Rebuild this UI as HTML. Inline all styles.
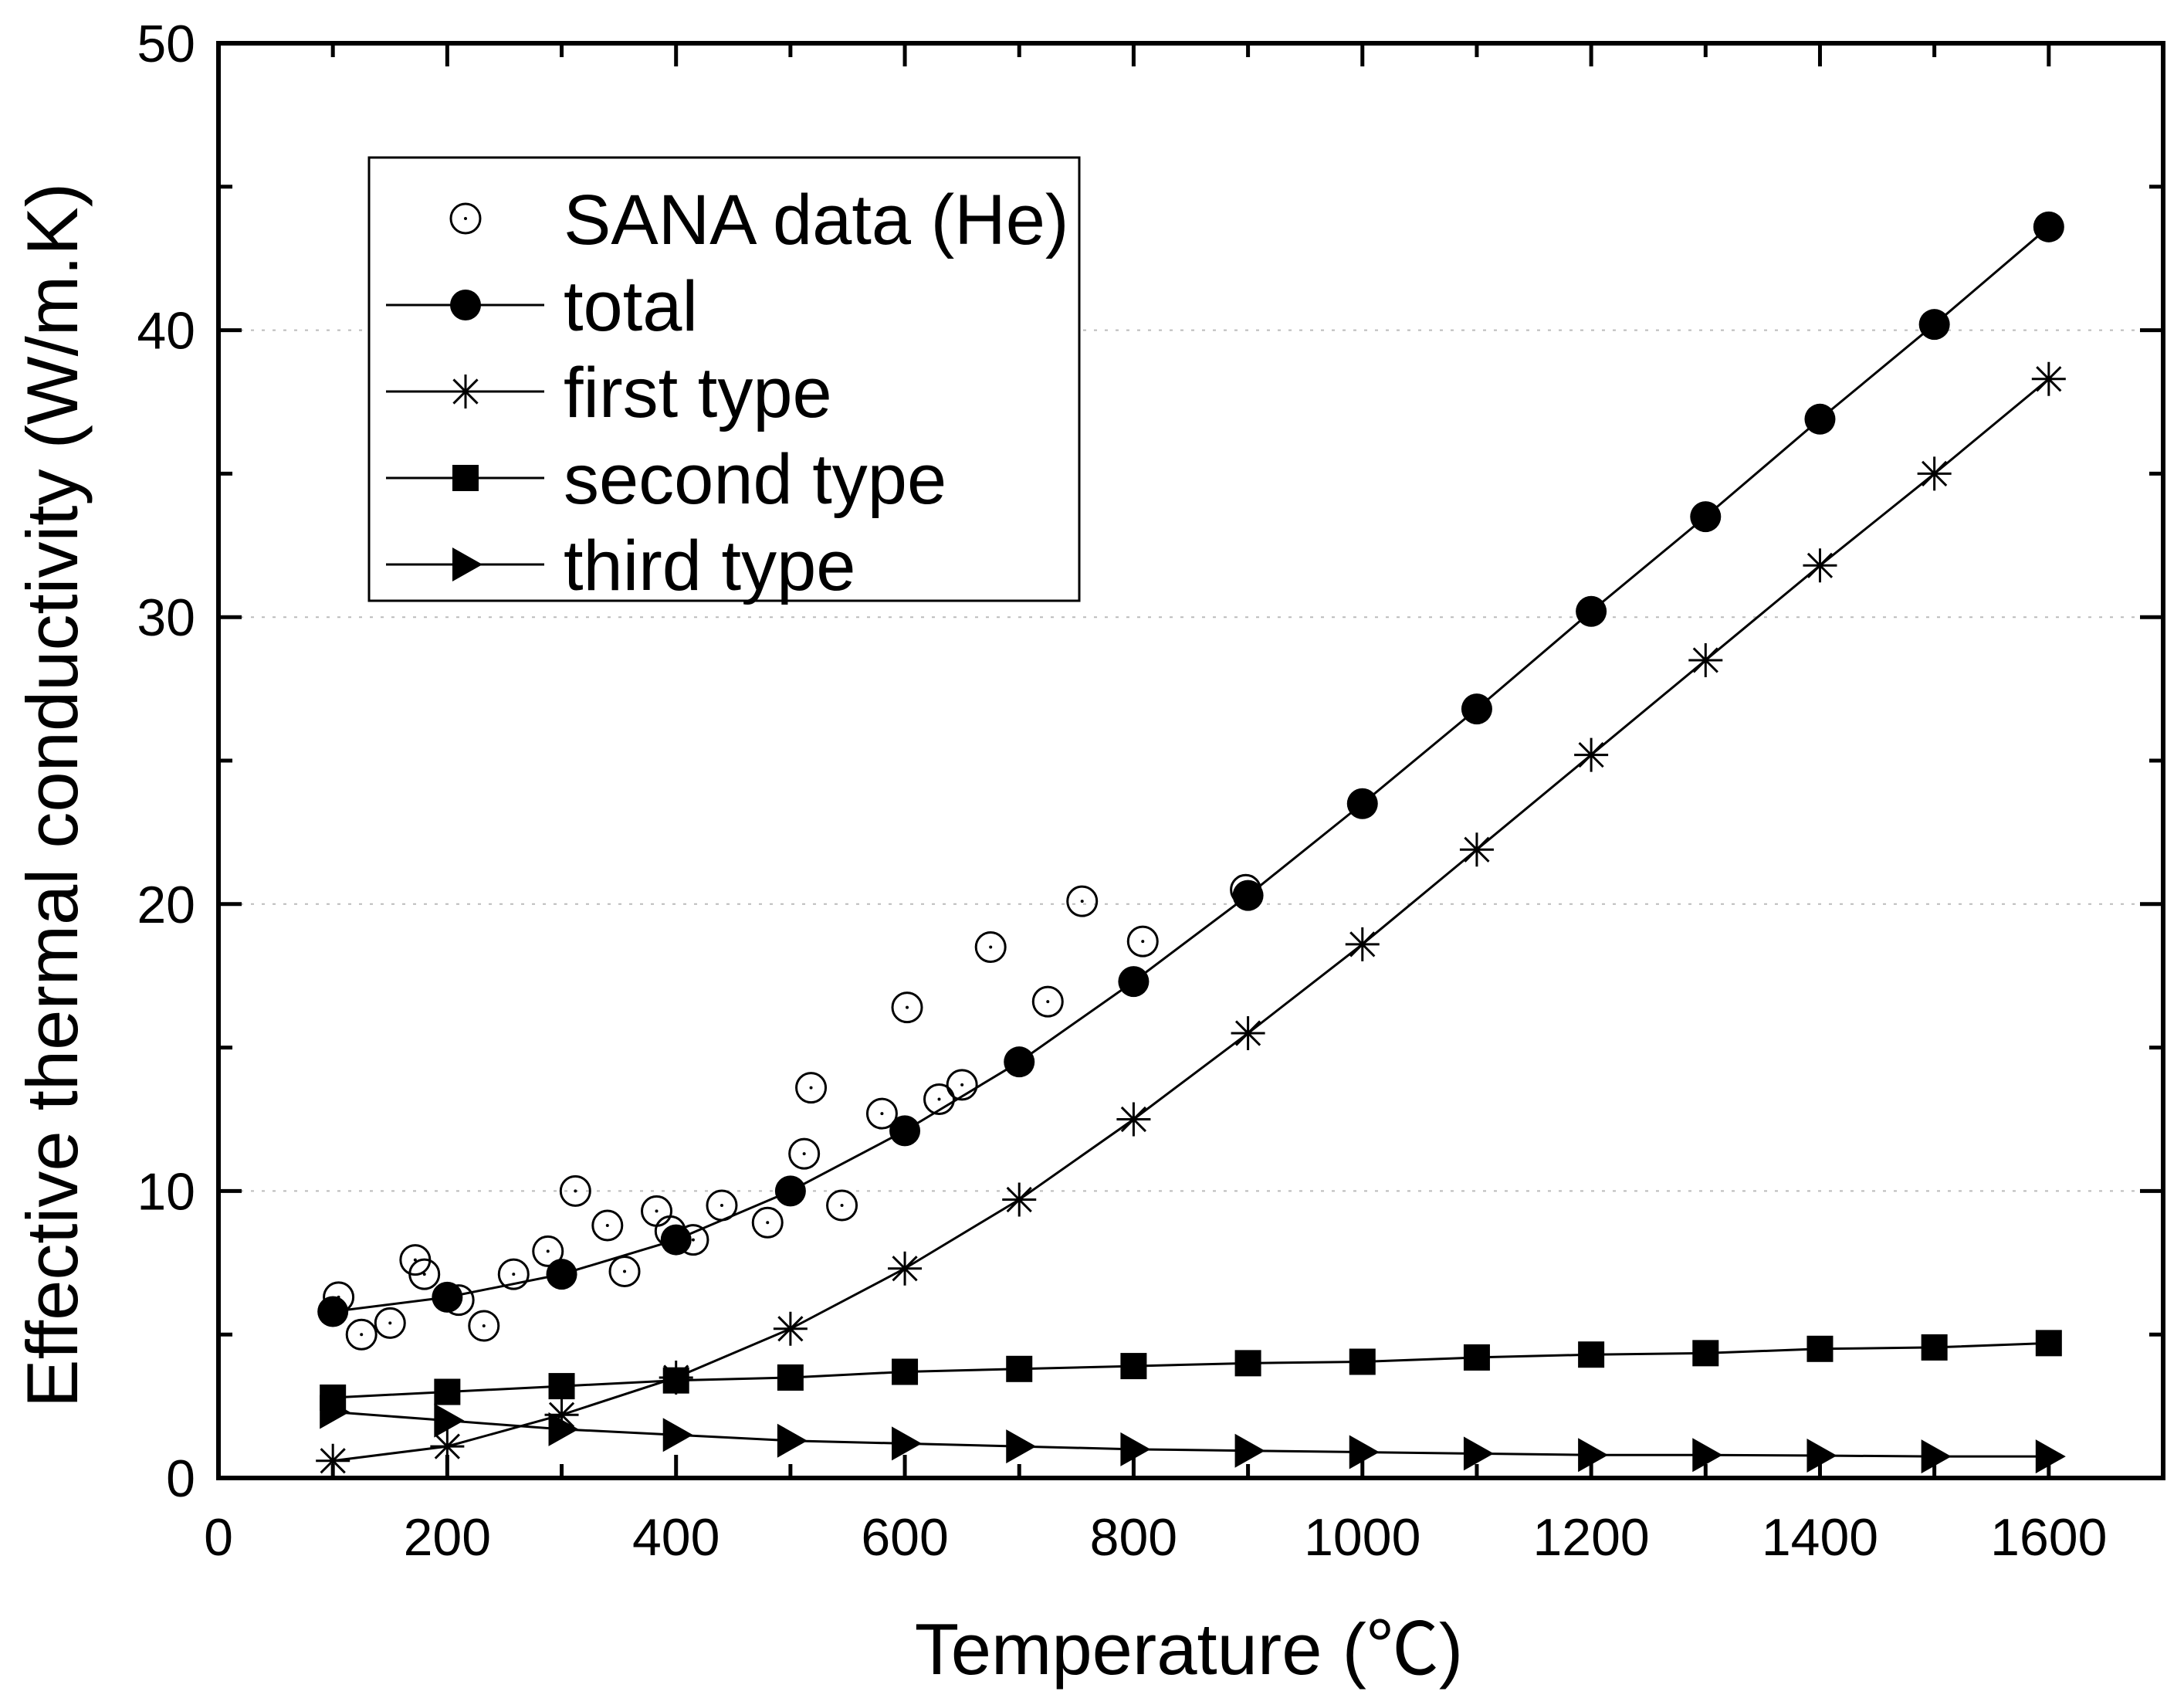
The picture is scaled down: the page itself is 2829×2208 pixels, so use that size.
<!DOCTYPE html>
<html><head><meta charset="utf-8"><style>
html,body{margin:0;padding:0;background:#fff}
svg{display:block}
text{font-family:"Liberation Sans","Noto Sans CJK SC",sans-serif;fill:#000}
</style></head><body>
<svg id="chart" width="2829" height="2208" viewBox="0 0 2829 2208" xmlns="http://www.w3.org/2000/svg">
<g id="grid"></g>
<g id="series"></g>
<g id="axes"></g>
<text x="1540" y="2168" font-size="94" text-anchor="middle">Temperature (℃)</text>
<text transform="translate(100,1030) rotate(-90)" font-size="94" text-anchor="middle">Effective thermal conductivity (W/m.K)</text>
<g id="legend"></g>
</svg>
<script>
const temps=[100,200,300,400,500,600,700,800,900,1000,1100,1200,1300,1400,1500,1600];
const totalVals=[5.8,6.3,7.1,8.3,10.0,12.1,14.5,17.3,20.3,23.5,26.8,30.2,33.5,36.9,40.2,43.6];
const firstVals=[0.6,1.1,2.2,3.5,5.2,7.3,9.7,12.5,15.5,18.6,21.9,25.2,28.5,31.8,35.0,38.3];
const secondVals=[2.8,3.0,3.2,3.4,3.5,3.7,3.8,3.9,4.0,4.05,4.2,4.3,4.35,4.5,4.55,4.7];
const thirdVals=[2.3,2.0,1.7,1.5,1.3,1.2,1.1,1.0,0.95,0.9,0.85,0.8,0.8,0.78,0.75,0.75];
const sanaT=[105,125,150,172,180,210,232,258,288,312,340,355,383,395,415,440,480,512,518,545,580,602,630,650,675,725,755,808,898];
const sanaK=[6.3,5.0,5.4,7.6,7.1,6.2,5.3,7.1,7.9,10.0,8.8,7.2,9.3,8.6,8.3,9.5,8.9,11.3,13.6,9.5,12.7,16.4,13.2,13.7,18.5,16.6,20.1,18.7,20.5];
const xTicks=[0,200,400,600,800,1000,1200,1400,1600];
const yTicks=[0,10,20,30,40,50];
const legendLabels=["SANA data (He)","total","first type","second type","third type"];

const L=283,R=2802,T=56,B=1914,XMAX=1700,YMAX=50;
const X=v=>L+(v/XMAX)*(R-L);
const Y=v=>B-(v/YMAX)*(B-T);
const NS="http://www.w3.org/2000/svg";
function mk(tag,attrs,parent){const e=document.createElementNS(NS,tag);for(const k in attrs)e.setAttribute(k,attrs[k]);parent.appendChild(e);return e;}
const grid=document.getElementById('grid'),axes=document.getElementById('axes'),ser=document.getElementById('series'),leg=document.getElementById('legend');

[10,20,30,40].forEach(v=>{
  const g=mk('line',{x1:L,x2:R,y1:Y(v),y2:Y(v),stroke:'#bbb','stroke-width':2,'stroke-dasharray':'4,10'},grid);
  
  
});
const frame=mk('rect',{x:L,y:T,width:R-L,height:B-T,fill:'none',stroke:'#000','stroke-width':6},axes);


for(let v=0;v<=XMAX;v+=100){
  const len=v%200===0?30:18;
  mk('line',{x1:X(v),x2:X(v),y1:B,y2:B-len,stroke:'#000','stroke-width':5},axes);
  mk('line',{x1:X(v),x2:X(v),y1:T,y2:T+len,stroke:'#000','stroke-width':5},axes);
}
for(let v=0;v<=YMAX;v+=5){
  const len=v%10===0?30:18;
  mk('line',{x1:L,x2:L+len,y1:Y(v),y2:Y(v),stroke:'#000','stroke-width':5},axes);
  mk('line',{x1:R,x2:R-len,y1:Y(v),y2:Y(v),stroke:'#000','stroke-width':5},axes);
}
xTicks.forEach(v=>{
  const t=mk('text',{x:X(v),y:B+100,'font-size':68,'text-anchor':'middle'},axes);
  t.textContent=v;
  
  
});
yTicks.forEach(v=>{
  const t=mk('text',{x:L-30,y:Y(v)+24,'font-size':68,'text-anchor':'end'},axes);
  t.textContent=v;
  
  
});

function path(vals){return temps.map((t,i)=>(i?'L':'M')+X(t)+','+Y(vals[i])).join(' ');}
function drawMarker(type,cx,cy,p){
  if(type==='open'){mk('circle',{cx,cy,r:19,fill:'none',stroke:'#000','stroke-width':3},p);mk('circle',{cx,cy,r:2,fill:'#000'},p);}
  else if(type==='circle'){mk('circle',{cx,cy,r:20,fill:'#000'},p);}
  else if(type==='star'){const r=22;let d='';for(let a=0;a<4;a++){const an=a*Math.PI/4+Math.PI/2;d+=`M${cx+r*Math.cos(an)},${cy+r*Math.sin(an)}L${cx-r*Math.cos(an)},${cy-r*Math.sin(an)}`;}mk('path',{d,stroke:'#000','stroke-width':3,fill:'none'},p);}
  else if(type==='square'){mk('rect',{x:cx-17,y:cy-17,width:34,height:34,fill:'#000'},p);}
  else if(type==='tri'){mk('path',{d:`M${cx-17},${cy-22}L${cx+22},${cy}L${cx-17},${cy+22}Z`,fill:'#000'},p);}
}
const seriesDefs=[['total',totalVals,'circle'],['first-type',firstVals,'star'],['second-type',secondVals,'square'],['third-type',thirdVals,'tri']];
seriesDefs.forEach(([nm,vals,m])=>{
  const g=mk('g',{},ser);
  
  
  const ln=mk('path',{d:path(vals),fill:'none',stroke:'#000','stroke-width':3},g);
  
  
  temps.forEach((t,i)=>drawMarker(m,X(t),Y(vals[i]),g));
});
const sg=mk('g',{},ser);


sanaT.forEach((t,i)=>drawMarker('open',X(t),Y(sanaK[i]),sg));

const lb=mk('rect',{x:478,y:204,width:920,height:574,fill:'#fff',stroke:'#000','stroke-width':3},leg);


const lm=['open','circle','star','square','tri'];
legendLabels.forEach((s,i)=>{
  const y=283+i*112;
  const g=mk('g',{},leg);
  
  
  if(i>0)mk('line',{x1:500,x2:705,y1:y,y2:y,stroke:'#000','stroke-width':3},g);
  drawMarker(lm[i],603,y,g);
  const t=mk('text',{x:730,y:y+33,'font-size':92},g);
  t.textContent=s;
});
</script>
</body></html>
